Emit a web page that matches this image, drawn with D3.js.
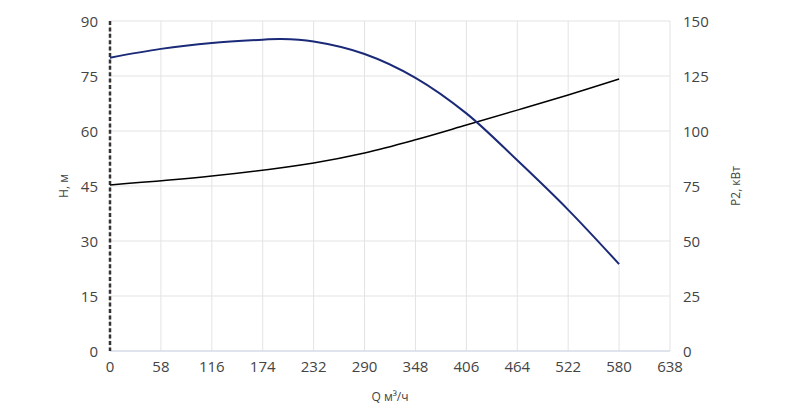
<!DOCTYPE html><html><head><meta charset="utf-8"><script src="https://cdn.jsdelivr.net/npm/d3@7"></script>
<style>body{margin:0;background:#fff}text{font-family:"Open Sans",sans-serif;fill:#444}</style></head><body><svg width="800" height="408"></svg>
<script>
const xTicks=[0,58,116,174,232,290,348,406,464,522,580,638];
const hTicks=[0,15,30,45,60,75,90];
const pTicks=[0,25,50,75,100,125,150];
const qH=[0,58,116,174,195,232,290,348,406,464,522,580];
const hVals=[80,82.4,84,84.9,85.1,84.4,81,74.5,64.8,52,38.5,23.7];
const qP=[0,116,232,290,348,406,464,522,580];
const pVals=[75.5,79.5,85.5,90,96,102.7,109.5,116.4,123.6];
const svg=d3.select("svg");
const L=110,R=670,T=21,B=351;
const x=d3.scaleLinear().domain([0,638]).range([L,R]);
const yH=d3.scaleLinear().domain([0,90]).range([B,T]);
const yP=d3.scaleLinear().domain([0,150]).range([B,T]);
const g=svg.append("g");
xTicks.forEach(t=>g.append("line").attr("x1",x(t)).attr("x2",x(t)).attr("y1",T).attr("y2",B).attr("stroke","#e3e3e3"));
hTicks.forEach(t=>g.append("line").attr("x1",L).attr("x2",R).attr("y1",yH(t)).attr("y2",yH(t)).attr("stroke","#e3e3e3"));
g.append("line").attr("x1",L).attr("x2",R).attr("y1",B).attr("y2",B).attr("stroke","#ccd6eb");
g.append("line").attr("x1",L).attr("x2",L).attr("y1",T).attr("y2",B).attr("stroke","#333").attr("stroke-width",2.5).attr("stroke-dasharray","4,2.4");
xTicks.forEach(t=>g.append("text").attr("x",x(t)).attr("y",B+21).attr("text-anchor","middle").attr("font-size",15).text(t));
hTicks.forEach(t=>g.append("text").attr("x",L-12).attr("y",yH(t)+6).attr("text-anchor","end").attr("font-size",15).text(t));
pTicks.forEach(t=>g.append("text").attr("x",R+13).attr("y",yP(t)+6).attr("text-anchor","start").attr("font-size",15).text(t));
g.append("text").attr("transform",`translate(68,${(T+B)/2}) rotate(-90)`).attr("text-anchor","middle").attr("font-size",12).text("H, м");
g.append("text").attr("transform",`translate(740,${(T+B)/2}) rotate(-90)`).attr("text-anchor","middle").attr("font-size",12).text("P2, кВт");
g.append("text").attr("x",(L+R)/2).attr("y",401).attr("text-anchor","middle").attr("font-size",12).text("Q м³/ч");
const line=d3.line().curve(d3.curveCatmullRom);
g.append("path").attr("d",line(qP.map((q,i)=>[x(q),yP(pVals[i])]))).attr("fill","none").attr("stroke","#000").attr("stroke-width",1.5);
g.append("path").attr("d",line(qH.map((q,i)=>[x(q),yH(hVals[i])]))).attr("fill","none").attr("stroke","#1a2a78").attr("stroke-width",2);
</script></body></html>
